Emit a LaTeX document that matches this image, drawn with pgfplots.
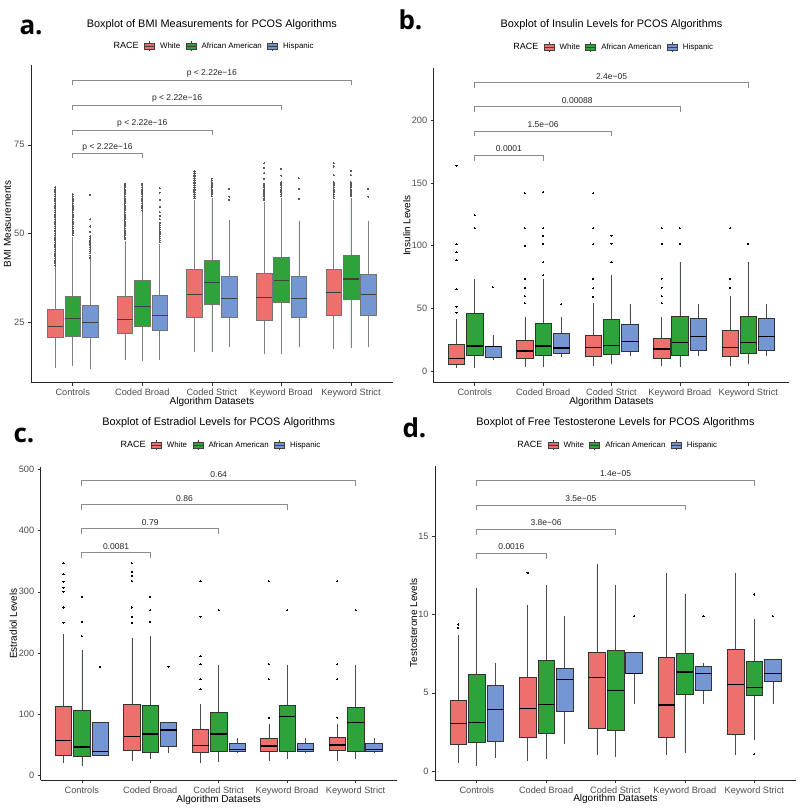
\documentclass[border=0pt]{standalone}
\usepackage{fontspec}
\setmainfont{Liberation Sans}
\newfontfamily\labfont{Open Sans}
\usepackage{pgfplots}
\pgfplotsset{compat=1.18}
\usepgfplotslibrary{statistics}

\definecolor{cW}{HTML}{EC706B}
\definecolor{cG}{HTML}{2DA33A}
\definecolor{cB}{HTML}{7496D3}
\definecolor{brk}{HTML}{8C8C8C}
\definecolor{tickc}{HTML}{4D4D4D}

\pgfplotsset{
 gg/.style={
  scale only axis, anchor=south west, clip=false,
  axis x line*=bottom, axis y line*=left,
  axis line style={black!85, line width=0.6pt},
  xmin=0.4, xmax=5.6,
  xtick={1,2,3,4,5},
  xticklabels={Controls, Coded Broad, Coded Strict, Keyword Broad, Keyword Strict},
  tick style={black!80, line width=0.5pt},
  tick align=outside, major tick length=3pt,
  ticklabel style={font=\fontsize{9.2}{10}\selectfont, text=tickc},
  /pgf/number format/assume math mode=true,
  xlabel={Algorithm Datasets},
  xlabel style={font=\fontsize{9.3}{10}\selectfont},
  ylabel style={font=\fontsize{9.3}{10}\selectfont},
  legend columns=4,
  legend style={draw=none, fill=none, anchor=center, font=\fontsize{7.9}{9}\selectfont,
    /tikz/every odd column/.append style={column sep=3.5pt},
    /tikz/every even column/.append style={column sep=3.5pt}},
  legend cell align=left,
 },
 bkey/.style={legend image code/.code={
   \draw[##1, draw=black!75, line width=0.4pt] (0pt,-3pt) rectangle (10pt,3pt);
   \draw[black!75, line width=0.4pt] (5pt,-5pt)--(5pt,-3pt) (5pt,3pt)--(5pt,5pt) (0pt,0pt)--(10pt,0pt);}},
 bp/.style={boxplot/draw direction=y, draw=black!80, line width=0.5pt,
   mark=*, mark size=0.6pt, mark options={fill=black, draw=black, line width=0pt},
   boxplot/every median/.style={line width=1.3pt, draw=black},
   boxplot/every whisker/.style={draw=black!70},
   boxplot/whisker extend=0},
 bpa/.style={boxplot/draw direction=y, draw=black!55, line width=0.5pt,
   mark=*, mark size=0.55pt, mark options={fill=black!65, draw=black!65, line width=0pt},
   boxplot/every median/.style={line width=1.1pt, draw=black!75},
   boxplot/every whisker/.style={draw=black!50},
   boxplot/whisker extend=0},
}
\newcommand{\B}[8]{\addplot[bp, fill=#7, boxplot prepared={draw position=#1, lower whisker=#2, lower quartile=#3, median=#4, upper quartile=#5, upper whisker=#6}] table[row sep=\\, y index=0] {y\\#8};}
\newcommand{\Bn}[7]{\addplot[bp, fill=#7, boxplot prepared={draw position=#1, lower whisker=#2, lower quartile=#3, median=#4, upper quartile=#5, upper whisker=#6}] coordinates {};}
\newcommand{\A}[8]{\addplot[bpa, fill=#7, boxplot prepared={draw position=#1, lower whisker=#2, lower quartile=#3, median=#4, upper quartile=#5, upper whisker=#6}] table[row sep=\\, y index=0] {y\\#8};}
\newcommand{\brk}[4]{\addplot[brk, line width=0.6pt, mark=none] coordinates {(1,#2)(1,#3)(#1,#3)(#1,#2)};}
\newcommand{\legendrace}{%
  \addlegendimage{empty legend}\addlegendentry{\fontsize{9}{10}\selectfont RACE}
  \addlegendimage{bkey, fill=cW}\addlegendentry{White}
  \addlegendimage{bkey, fill=cG}\addlegendentry{African American}
  \addlegendimage{bkey, fill=cB}\addlegendentry{Hispanic}}
\newcommand{\plab}[2]{\node[font=\fontsize{8.5}{9}\selectfont, text=black!85] at (axis cs:#1) {#2};}
\newcommand{\ptitle}[2]{\node[font=\fontsize{10.9}{12}\selectfont, anchor=center] at (axis description cs:0.5,#1) {#2};}

\begin{document}
\begin{tikzpicture}
\path[use as bounding box, fill=white] (0,0) rectangle (800pt,809pt);

% ---------------- panel a ----------------
\begin{axis}[gg, at={(31pt,426.3pt)}, width=361.7pt, height=317.7pt,
  ymin=7.98, ymax=97.5, ytick={25,50,75},
  boxplot/box extend=0.225,
  ylabel={BMI Measurements},
  every axis y label/.style={at={(axis description cs:-0.065,0.5)}, rotate=90, anchor=center},
  every axis x label/.style={at={(axis description cs:0.5,-0.06)}, anchor=center},
  legend style={at={(axis description cs:0.5,1.0598)}}]
\legendrace
\A{0.75}{12.0}{20.7}{23.7}{28.7}{40.5}{cW}{41\\41.5\\42\\42.5\\43\\43.5\\44\\44.5\\45\\45.5\\46\\46.5\\47\\47.5\\48\\48.5\\49\\49.5\\50\\50.5\\51\\51.5\\52\\52.5\\53\\53.5\\54\\54.5\\55\\55.5\\56\\56.5\\57\\57.5\\58\\58.5\\59\\59.5\\60\\60.5\\61\\61.5\\62\\62.5\\63\\}
\A{1}{12.8}{21.2}{26.1}{32.3}{49}{cG}{49.5\\50\\50.5\\51\\51.5\\52\\52.5\\53\\53.5\\54\\54.5\\55\\55.5\\56\\56.5\\57\\57.5\\58\\58.5\\59\\59.5\\60\\60.5\\61\\}
\A{1.25}{11.8}{20.9}{24.9}{29.8}{43}{cB}{43.2\\43.8\\44.4\\45\\45.6\\46.2\\46.8\\47.4\\48\\48.6\\49.2\\50.5\\52\\54.1\\60.9\\}
\A{1.75}{14.4}{21.8}{25.8}{32.3}{47.8}{cW}{48.5\\49\\49.5\\50\\50.5\\51\\51.5\\52\\52.5\\53\\53.5\\54\\54.5\\55\\55.5\\56\\56.5\\57\\57.5\\58\\58.5\\59\\59.5\\60\\60.5\\61\\61.5\\62\\62.5\\63\\63.5\\64\\}
\A{2}{14.2}{23.8}{29.4}{36.8}{56}{cG}{56.5\\57\\57.5\\58\\58.5\\59\\59.5\\60\\60.5\\61\\61.5\\62\\62.5\\63\\63.5\\64\\}
\A{2.25}{14.4}{22.8}{26.9}{32.5}{47}{cB}{47.5\\48.1\\48.7\\49.3\\49.9\\50.5\\51.1\\51.7\\52.3\\53\\54\\55\\56\\57.5\\59.5\\61.5\\62.8\\}
\A{2.75}{16.5}{26.4}{32.9}{39.9}{59.5}{cW}{60\\60.5\\61\\61.5\\62\\62.5\\63\\63.5\\64\\64.5\\65\\65.5\\66\\66.5\\67\\67.5\\}
\A{3}{16.6}{30.1}{36.3}{42.5}{60}{cG}{60.5\\61\\61.5\\62\\62.5\\63\\63.5\\64\\64.5\\65\\65.5\\}
\A{3.25}{18.1}{26.4}{31.8}{37.9}{53.8}{cB}{59.5\\60.4\\62.6\\}
\A{3.75}{16.2}{25.5}{32.0}{38.8}{58.8}{cW}{59.5\\60\\60.5\\61\\61.5\\62\\62.5\\63\\63.5\\64\\65.5\\67\\68.5\\69.8\\}
\A{4}{16.1}{30.7}{36.7}{43.2}{60}{cG}{60.5\\61\\61.5\\62\\62.5\\63\\63.5\\64\\64.5\\66.3\\68.2\\}
\A{4.25}{18.1}{26.4}{31.7}{38.1}{53.6}{cB}{59.8\\62.6\\65.6\\}
\A{4.75}{17.5}{26.9}{33.4}{40.0}{59.5}{cW}{60\\60.5\\61\\61.5\\62\\62.5\\63\\63.5\\64\\64.5\\66.5\\68.9\\69.8\\}
\A{5}{17.8}{31.5}{37.2}{43.9}{60}{cG}{60.5\\61\\61.5\\62\\62.5\\63\\63.5\\64\\64.5\\66.5\\67.7\\}
\A{5.25}{18.1}{26.9}{32.9}{38.6}{53.6}{cB}{60.4\\62.6\\}
\brk{2}{71.2}{72.6}{} \brk{3}{77.8}{79.2}{} \brk{4}{84.8}{86.2}{} \brk{5}{91.9}{93.3}{}
\plab{1.5,74.4}{p < 2.22e−16}
\plab{2,81.1}{p < 2.22e−16}
\plab{2.5,88.1}{p < 2.22e−16}
\plab{3,95.2}{p < 2.22e−16}
\ptitle{1.1275}{Boxplot of BMI Measurements for PCOS Algorithms}
\end{axis}

% ---------------- panel b ----------------
\begin{axis}[gg, at={(433.7pt,426.3pt)}, width=355.6pt, height=314.4pt,
  ymin=-9.3, ymax=241.4, ytick={0,50,100,150,200},
  boxplot/box extend=0.24,
  ylabel={Insulin Levels},
  every axis y label/.style={at={(axis description cs:-0.076,0.5)}, rotate=90, anchor=center},
  every axis x label/.style={at={(axis description cs:0.5,-0.0604)}, anchor=center},
  legend style={at={(axis description cs:0.5,1.0677)}}]
\legendrace
\B{0.733}{2.7}{5.3}{10.1}{21.3}{41.2}{cW}{46.5\\51.3\\65.1\\88.5\\94.6\\101\\163.7\\}
\B{1}{2.1}{12.2}{19.9}{46.0}{73.1}{cG}{113.8\\124.4\\}
\B{1.267}{8.8}{10.9}{19.4}{19.8}{28.7}{cB}{66.7\\}
\B{1.733}{3.5}{9.8}{15.9}{24.2}{43.3}{cW}{54\\59.8\\66.5\\73.6\\100\\113.8\\141.7\\}
\B{2}{3.5}{12.5}{19.9}{38.0}{73.1}{cG}{76.3\\86.9\\101.3\\107.9\\113.8\\142.7\\}
\B{2.267}{11.4}{14.4}{18.3}{30.0}{43.3}{cB}{53.2\\}
\B{2.733}{4.0}{11.4}{18.6}{28.7}{54.0}{cW}{59.3\\65.9\\73.6\\101\\113.8\\141.7\\}
\B{3}{5.3}{13.3}{20.2}{41.5}{76.6}{cG}{86.9\\101.5\\107.9\\}
\Bn{3.267}{12.0}{15.4}{23.4}{37.2}{53.2}{cB}
\B{3.733}{4.0}{10.4}{17.5}{26.0}{43.3}{cW}{54\\59.8\\66.5\\73.6\\101.3\\113.8\\}
\B{4}{3.5}{12.8}{22.9}{43.6}{86.9}{cG}{101.3\\113.8\\}
\Bn{4.267}{12.0}{16.5}{27.4}{41.7}{53.2}{cB}
\B{4.733}{4.0}{11.7}{18.6}{32.7}{59.8}{cW}{66.5\\73.6\\113.8\\}
\B{5}{5.3}{13.8}{22.6}{43.3}{86.9}{cG}{101.3\\}
\Bn{5.267}{12.0}{16.5}{27.4}{41.7}{53.2}{cB}
\brk{2}{167.7}{172}{} \brk{3}{187.1}{191.4}{} \brk{4}{206.5}{210.8}{} \brk{5}{225.6}{229.9}{}
\plab{1.5,177}{0.0001}
\plab{2,196.3}{1.5e−06}
\plab{2.5,215.8}{0.00088}
\plab{3,235}{2.4e−05}
\ptitle{1.1377}{Boxplot of Insulin Levels for PCOS Algorithms}
\end{axis}

% ---------------- panel c ----------------
\begin{axis}[gg, at={(40.7pt,28.7pt)}, width=356pt, height=313.6pt,
  ymin=-7.5, ymax=504, ytick={0,100,200,300,400,500},
  boxplot/box extend=0.24,
  ylabel={Estradiol Levels},
  every axis y label/.style={at={(axis description cs:-0.077,0.5)}, rotate=90, anchor=center},
  every axis x label/.style={at={(axis description cs:0.5,-0.063)}, anchor=center},
  legend style={at={(axis description cs:0.5,1.069)}}]
\legendrace
\B{0.733}{21.2}{33.2}{57.6}{113}{230.4}{cW}{249.5\\274.5\\300\\306.6\\316.3\\328.9\\346.3\\}
\B{1}{16.3}{31.5}{46.7}{106.5}{204.9}{cG}{227.7\\251.1\\291.9\\}
\B{1.267}{33.2}{33.2}{39.7}{87}{87}{cB}{177.7\\}
\B{1.733}{24.5}{40.8}{63.6}{116.3}{224.5}{cW}{249.5\\259.2\\274.5\\317.5\\326.2\\332.7\\346.3\\}
\B{2}{26.6}{38}{67.9}{114.7}{227.7}{cG}{251.1\\270.1\\291.9\\}
\B{2.267}{36.4}{47.8}{74.5}{87}{87}{cB}{177.7\\}
\B{2.733}{20.1}{38}{49.5}{75.5}{117.4}{cW}{140.8\\157.6\\182.1\\195.1\\259.2\\317.5\\}
\B{3}{22.8}{39.1}{67.9}{103.3}{181}{cG}{270.1\\}
\Bn{3.267}{36.4}{39.1}{42.9}{52.2}{62}{cB}
\B{3.733}{24.5}{39.1}{48.4}{61.4}{84.8}{cW}{94.6\\157.6\\182.1\\317.5\\}
\B{4}{27.7}{40.2}{96.7}{114.7}{181}{cG}{270.1\\}
\Bn{4.267}{36.4}{39.1}{42.9}{52.2}{62}{cB}
\B{4.733}{24.5}{41.3}{50}{62.5}{84.8}{cW}{94.6\\157.6\\182.1\\317.5\\}
\B{5}{27.7}{40.2}{87}{110.9}{181}{cG}{270.1\\}
\Bn{5.267}{36.4}{39.1}{42.9}{52.2}{62}{cB}
\brk{2}{354.4}{363.6}{} \brk{3}{394.1}{403.3}{} \brk{4}{433.3}{442.5}{} \brk{5}{472.9}{482.1}{}
\plab{1.5,373.4}{0.0081}
\plab{2,412.6}{0.79}
\plab{2.5,451.8}{0.86}
\plab{3,491.8}{0.64}
\ptitle{1.141}{Boxplot of Estradiol Levels for PCOS Algorithms}
\end{axis}

% ---------------- panel d ----------------
\begin{axis}[gg, at={(435.1pt,29pt)}, width=360.8pt, height=314.3pt,
  ymin=-0.57, ymax=19.5, ytick={0,5,10,15},
  boxplot/box extend=0.24,
  ylabel={Testosterone Levels},
  every axis y label/.style={at={(axis description cs:-0.06,0.5)}, rotate=90, anchor=center},
  every axis x label/.style={at={(axis description cs:0.5,-0.0605)}, anchor=center},
  legend style={at={(axis description cs:0.5,1.066)}}]
\legendrace
\B{0.733}{0.53}{1.70}{3.02}{4.51}{8.68}{cW}{9.15\\9.36\\}
\Bn{1}{0.34}{1.81}{3.11}{6.17}{11.66}{cG}
\Bn{1.267}{0.83}{1.91}{3.91}{5.49}{6.87}{cB}
\B{1.733}{0.62}{2.17}{3.98}{6.0}{10.6}{cW}{12.65\\}
\Bn{2}{0.74}{2.40}{4.23}{7.09}{11.87}{cG}
\Bn{2.267}{1.72}{3.79}{5.85}{6.55}{9.89}{cB}
\Bn{2.733}{1.04}{2.74}{5.96}{7.6}{13.25}{cW}
\Bn{3}{0.91}{2.62}{5.13}{7.72}{11.87}{cG}
\B{3.267}{4.28}{6.23}{6.25}{7.6}{7.6}{cB}{9.89\\}
\Bn{3.733}{1.04}{2.17}{4.21}{7.3}{12.65}{cW}
\Bn{4}{1.13}{4.89}{6.32}{7.51}{11.3}{cG}
\B{4.267}{4.28}{5.17}{6.21}{6.72}{6.87}{cB}{9.89\\}
\Bn{4.733}{1.04}{2.32}{5.51}{7.79}{12.65}{cW}
\B{5}{1.98}{4.81}{5.34}{7.02}{9.70}{cG}{1.09\\11.28\\}
\B{5.267}{4.28}{5.72}{6.23}{7.15}{7.15}{cB}{9.89\\}
\brk{2}{13.55}{13.91}{} \brk{3}{15.1}{15.46}{} \brk{4}{16.64}{17.0}{} \brk{5}{18.21}{18.57}{}
\plab{1.5,14.32}{0.0016}
\plab{2,15.87}{3.8e−06}
\plab{2.5,17.41}{3.5e−05}
\plab{3,18.98}{1.4e−05}
\ptitle{1.1375}{Boxplot of Free Testosterone Levels for PCOS Algorithms}
\end{axis}

\node[anchor=base west, font=\labfont\bfseries\fontsize{26}{28}\selectfont] at (16pt,774pt) {a.};
\node[anchor=base west, font=\labfont\bfseries\fontsize{26}{28}\selectfont] at (395pt,779pt) {b.};
\node[anchor=base west, font=\labfont\bfseries\fontsize{26}{28}\selectfont] at (10pt,366.3pt) {c.};
\node[anchor=base west, font=\labfont\bfseries\fontsize{26}{28}\selectfont] at (399pt,371pt) {d.};
\end{tikzpicture}
\end{document}
